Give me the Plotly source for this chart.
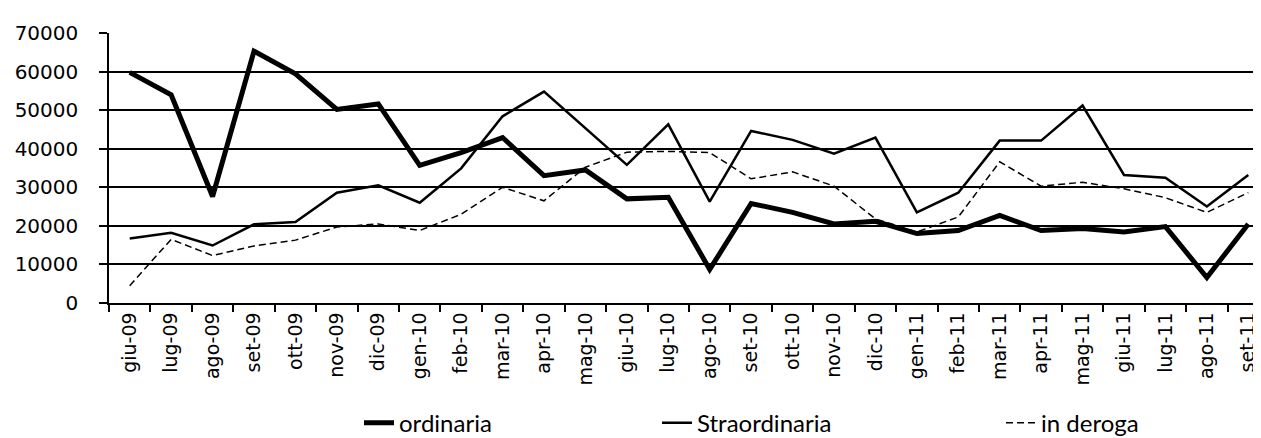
import plotly.graph_objects as go

months = ["giu-09", "lug-09", "ago-09", "set-09", "ott-09", "nov-09", "dic-09",
          "gen-10", "feb-10", "mar-10", "apr-10", "mag-10", "giu-10", "lug-10",
          "ago-10", "set-10", "ott-10", "nov-10", "dic-10", "gen-11", "feb-11",
          "mar-11", "apr-11", "mag-11", "giu-11", "lug-11", "ago-11", "set-11"]

ordinaria = [59800, 54000, 27600, 65300, 59400, 50200, 51600,
             35700, 39000, 42900, 33000, 34500, 27000, 27400,
             8700, 25800, 23500, 20500, 21200, 18000, 18800,
             22700, 18800, 19300, 18400, 19800, 6600, 20500]

straordinaria = [16700, 18200, 14900, 20400, 21000, 28600, 30500,
                 26000, 34900, 48400, 54800, 45300, 35800, 46300,
                 26300, 44600, 42300, 38700, 42900, 23500, 28600,
                 42100, 42100, 51200, 33200, 32500, 25000, 33200]

in_deroga = [4500, 16500, 12300, 14800, 16300, 19700, 20500,
             18800, 23000, 30000, 26500, 35200, 39100, 39300,
             39000, 32200, 34000, 30300, 21800, 18400, 22300,
             36600, 30300, 31300, 29600, 27300, 23500, 28600]

y_ticks = [0, 10000, 20000, 30000, 40000, 50000, 60000, 70000]
legend_names = ["ordinaria", "Straordinaria", "in deroga"]

W, H = 1261, 438
L, R, T, B = 101, 0, 25, 137
pw = W - L - R

legend_px = [351, 649, 993]
legend_font = dict(family="Lato", size=24, color="black")

fig = go.Figure()
fig.add_trace(go.Scatter(x=months, y=ordinaria, name=legend_names[0], mode="lines",
                         line=dict(color="black", width=5), legend="legend"))
fig.add_trace(go.Scatter(x=months, y=straordinaria, name=legend_names[1], mode="lines",
                         line=dict(color="black", width=2.5), legend="legend2"))
fig.add_trace(go.Scatter(x=months, y=in_deroga, name=legend_names[2], mode="lines",
                         line=dict(color="black", width=1.5, dash="7px,4px"), legend="legend3"))

def leg(px):
    return dict(x=(px - L) / pw, xanchor="left", y=-0.445, yanchor="middle",
                orientation="h", font=legend_font, bgcolor="rgba(0,0,0,0)",
                borderwidth=0, tracegroupgap=0)

fig.update_layout(
    width=W, height=H,
    margin=dict(l=L, r=R, t=T, b=B, pad=0),
    paper_bgcolor="white", plot_bgcolor="white",
    showlegend=True,
    legend=leg(legend_px[0]),
    legend2=leg(legend_px[1]),
    legend3=leg(legend_px[2]),
    font=dict(family="DejaVu Sans", color="black"),
    xaxis=dict(
        type="category", categoryorder="array", categoryarray=months,
        range=[-0.5, len(months) - 0.5], showgrid=False, showline=True,
        linecolor="black", linewidth=1.5, ticks="outside", tickson="boundaries",
        ticklen=7, tickcolor="black", tickwidth=1.5, tickangle=-90,
        tickfont=dict(family="DejaVu Sans", size=19, color="black"),
        zeroline=False,
    ),
    yaxis=dict(
        range=[0, 70000], tickvals=y_ticks, ticktext=[str(v) for v in y_ticks],
        showgrid=True, gridcolor="black", gridwidth=1.5,
        showline=True, linecolor="black", linewidth=1.5,
        ticks="outside", ticklen=8, tickcolor="black", tickwidth=1.5,
        tickfont=dict(family="DejaVu Sans", size=20, color="black"),
        ticklabelstandoff=17, zeroline=False,
    ),
)

fig.write_html("out.html")
